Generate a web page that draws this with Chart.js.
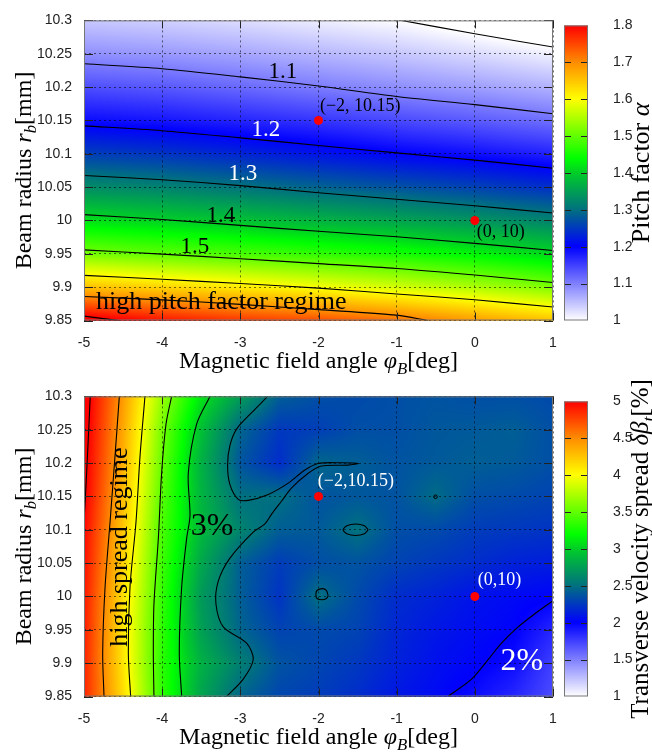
<!DOCTYPE html>
<html lang="en">
<head>
<meta charset="UTF-8">
<title>Pitch factor and transverse velocity spread</title>
<style>
  body { margin: 0; background: #fff; }
  #wrap { position: relative; width: 652px; height: 754px; overflow: hidden; }
  canvas { position: absolute; }
</style>
</head>
<body>
<div id="wrap">
  <canvas id="alphaMap" width="560" height="376" style="left:0;top:0"></canvas>
  <canvas id="alphaBar" width="96" height="376" style="left:556px;top:0"></canvas>
  <canvas id="spreadMap" width="560" height="378" style="left:0;top:376px"></canvas>
  <canvas id="spreadBar" width="96" height="378" style="left:556px;top:376px"></canvas>
</div>
<script src="https://cdn.jsdelivr.net/npm/chart.js"></script>
<script>
// axes
const phiTicks = [-5, -4, -3, -2, -1, 0, 1];
const radiusTicks = [9.85, 9.9, 9.95, 10, 10.05, 10.1, 10.15, 10.2, 10.25, 10.3];
const alphaBarTicks = [1, 1.1, 1.2, 1.3, 1.4, 1.5, 1.6, 1.7, 1.8];
const spreadBarTicks = [1, 1.5, 2, 2.5, 3, 3.5, 4, 4.5, 5];

// pitch factor: columns = alphaPhi, rows = radiusTicks (9.85 up to 10.3)
const alphaPhi = [-5, -4, -3, -2, -1, 0, 1];
const alphaValues = [
  [1.820, 1.786, 1.762, 1.745, 1.721, 1.686, 1.654],
  [1.656, 1.638, 1.618, 1.596, 1.573, 1.549, 1.519],
  [1.515, 1.499, 1.485, 1.470, 1.454, 1.433, 1.410],
  [1.417, 1.403, 1.388, 1.372, 1.356, 1.339, 1.320],
  [1.330, 1.319, 1.304, 1.288, 1.274, 1.259, 1.242],
  [1.256, 1.247, 1.233, 1.218, 1.202, 1.189, 1.173],
  [1.191, 1.183, 1.171, 1.158, 1.142, 1.128, 1.112],
  [1.138, 1.130, 1.117, 1.102, 1.088, 1.075, 1.060],
  [1.087, 1.080, 1.070, 1.057, 1.044, 1.028, 1.010],
  [1.043, 1.036, 1.026, 1.013, 1.001, 0.981, 0.960]
];

// pitch factor contour lines [phi, r]
const alpha10 = [[-0.94, 10.3], [0, 10.280], [1, 10.260]];
const alpha11 = [[-5, 10.2349], [-4, 10.2276], [-3, 10.2153], [-2, 10.2016], [-1, 10.1859], [0, 10.1737], [1, 10.160]];
const alpha12 = [[-5, 10.1419], [-4, 10.1346], [-3, 10.1238], [-2, 10.1125], [-1, 10.1013], [0, 10.0905], [1, 10.0783]];
const alpha13 = [[-5, 10.0675], [-4, 10.0611], [-3, 10.0523], [-2, 10.0416], [-1, 10.0318], [0, 10.022], [1, 10.0112]];
const alpha14 = [[-5, 10.0088], [-4, 10.0014], [-3, 9.9926], [-2, 9.9838], [-1, 9.9755], [0, 9.9657], [1, 9.9549]];
const alpha15 = [[-5, 9.9559], [-4, 9.9495], [-3, 9.9427], [-2, 9.9353], [-1, 9.928], [0, 9.9182], [1, 9.9069]];
const alpha16 = [[-5, 9.9177], [-4, 9.9118], [-3, 9.9055], [-2, 9.8986], [-1, 9.8898], [0, 9.881], [1, 9.8702]];
const alpha17 = [[-5, 9.8859], [-4, 9.881], [-3, 9.8742], [-2, 9.8663], [-1, 9.858], [-0.6, 9.85]];
const alpha18 = [[-5, 9.8565], [-4.55, 9.85]];

// transverse velocity spread in %, columns = spreadPhi, rows = radiusTicks
const spreadPhi = [-5, -4.5, -4, -3.5, -3, -2.5, -2, -1.5, -1, -0.5, 0, 0.5, 1];
const spreadValues = [
  [4.88, 4.15, 3.35, 2.78, 2.45, 2.31, 2.27, 2.20, 2.10, 2.04, 1.95, 1.85, 1.70],
  [4.88, 4.11, 3.33, 2.85, 2.58, 2.37, 2.31, 2.25, 2.15, 2.07, 2.02, 1.95, 1.75],
  [4.90, 4.11, 3.34, 2.76, 2.45, 2.30, 2.33, 2.30, 2.17, 2.10, 2.05, 2.01, 1.85],
  [4.92, 4.14, 3.36, 2.72, 2.42, 2.23, 2.50, 2.33, 2.20, 2.15, 2.08, 2.04, 2.01],
  [4.95, 4.19, 3.39, 2.80, 2.42, 2.27, 2.35, 2.37, 2.30, 2.25, 2.20, 2.15, 2.13],
  [4.98, 4.24, 3.43, 2.90, 2.61, 2.42, 2.40, 2.51, 2.35, 2.33, 2.27, 2.25, 2.23],
  [5.03, 4.29, 3.47, 2.87, 2.50, 2.50, 2.37, 2.39, 2.37, 2.48, 2.35, 2.33, 2.30],
  [5.06, 4.34, 3.52, 2.85, 2.38, 2.20, 2.46, 2.42, 2.37, 2.40, 2.42, 2.40, 2.35],
  [5.08, 4.38, 3.57, 2.93, 2.45, 2.25, 2.28, 2.35, 2.35, 2.39, 2.40, 2.42, 2.35],
  [5.11, 4.43, 3.68, 3.11, 2.74, 2.42, 2.35, 2.33, 2.35, 2.37, 2.35, 2.35, 2.33]
];

// spread contour lines [phi, r]
const spread50 = [[-4.92, 10.3], [-4.96, 10.2], [-5, 10.11]];
const spread45 = [[-4.548, 10.3], [-4.604, 10.2093], [-4.667, 10.1113], [-4.731, 10.0132], [-4.761, 9.9152], [-4.744, 9.85]];
const spread40 = [[-4.22, 10.3], [-4.284, 10.2093], [-4.335, 10.1113], [-4.412, 10.0132], [-4.433, 9.9152], [-4.403, 9.85]];
const spread35 = [[-3.879, 10.3], [-3.951, 10.2583], [-4.007, 10.1848], [-4.049, 10.0868], [-4.105, 9.9887], [-4.113, 9.9152], [-4.105, 9.85]];
const spread30 = [[-3.389, 10.3], [-3.559, 10.2583], [-3.666, 10.1848], [-3.644, 10.121], [-3.687, 10.0868], [-3.751, 10.0132], [-3.781, 9.9152], [-3.75, 9.85]];
const spread25 = [[-2.651, 10.3], [-2.856, 10.2755], [-3.048, 10.251], [-3.133, 10.2265], [-3.163, 10.197], [-3.133, 10.1676],
  [-3.026, 10.1456], [-2.899, 10.1441], [-2.643, 10.153], [-2.387, 10.170], [-2.174, 10.1897], [-2.004, 10.1995],
  [-1.705, 10.2005], [-1.492, 10.1995], [-1.62, 10.197], [-1.961, 10.1956], [-2.131, 10.1848], [-2.344, 10.1627],
  [-2.472, 10.1431], [-2.6, 10.1235], [-2.685, 10.1088], [-2.835, 10.0966], [-3.133, 10.0574], [-3.282, 10.023],
  [-3.312, 9.9887], [-3.218, 9.9544], [-2.92, 9.930], [-2.835, 9.9054], [-2.963, 9.876], [-3.175, 9.85]];
const spreadLoopA = [[-1.365, 10.1], [-1.412, 10.106], [-1.525, 10.1086], [-1.638, 10.106], [-1.685, 10.1],
  [-1.638, 10.094], [-1.525, 10.0914], [-1.412, 10.094], [-1.365, 10.1]];
const spreadLoopB = [[-1.875, 10.001], [-1.90, 10.009], [-1.95, 10.0117], [-2.02, 10.009], [-2.033, 10.0034],
  [-2.02, 9.997], [-1.95, 9.995], [-1.90, 9.997], [-1.875, 10.001]];
const spreadSpot = [[-0.503, 10.1495]];
const spread20 = [[-0.341, 9.8505], [-0.042, 9.876], [0.170, 9.9054], [0.341, 9.930], [0.554, 9.9544], [0.767, 9.974], [1, 9.9936]];

// operating points
const markedPoints = [[-2, 10.15], [0, 10]];

// colour map (fraction of colour range -> rgb)
const colorStops = [
  [0, [255, 255, 255]], [0.25, [0, 0, 255]], [0.375, [0, 112, 128]], [0.5, [0, 205, 40]],
  [0.55, [0, 255, 0]], [0.75, [255, 255, 0]], [0.875, [255, 140, 0]], [1, [255, 0, 0]]
];

Chart.defaults.font.family = '"Liberation Sans", Arial, sans-serif';
Chart.defaults.font.size = 14;
Chart.defaults.color = '#222';

const SERIF = '"Liberation Serif", "Times New Roman", serif';

function colorAt(t) {
  t = Math.max(0, Math.min(1, t));
  for (let i = 1; i < colorStops.length; i++) {
    if (t <= colorStops[i][0]) {
      const a = colorStops[i - 1], b = colorStops[i];
      const f = (t - a[0]) / (b[0] - a[0]);
      return [0, 1, 2].map(k => Math.round(a[1][k] + f * (b[1][k] - a[1][k])));
    }
  }
  return colorStops[colorStops.length - 1][1];
}

function sampleGrid(xs, ys, rows, x, y) {
  let i = 0; while (i < xs.length - 2 && x > xs[i + 1]) i++;
  let j = 0; while (j < ys.length - 2 && y > ys[j + 1]) j++;
  const fx = Math.min(1, Math.max(0, (x - xs[i]) / (xs[i + 1] - xs[i])));
  const fy = Math.min(1, Math.max(0, (y - ys[j]) / (ys[j + 1] - ys[j])));
  return rows[j][i] * (1 - fx) * (1 - fy) + rows[j][i + 1] * fx * (1 - fy) +
         rows[j + 1][i] * (1 - fx) * fy + rows[j + 1][i + 1] * fx * fy;
}

// draws text made of parts: [text, italic, subscript]
function drawRich(ctx, parts, x, y, size, angle) {
  ctx.save();
  ctx.translate(x, y);
  ctx.rotate(angle);
  const fonts = parts.map(p => (p[1] ? 'italic ' : '') + (p[2] ? size * 0.7 : size) + 'px ' + SERIF);
  let total = 0;
  parts.forEach((p, i) => { ctx.font = fonts[i]; total += ctx.measureText(p[0]).width; });
  let cx = -total / 2;
  ctx.fillStyle = '#000';
  ctx.textAlign = 'left';
  ctx.textBaseline = 'alphabetic';
  parts.forEach((p, i) => {
    ctx.font = fonts[i];
    ctx.fillText(p[0], cx, size * 0.33 + (p[2] ? size * 0.22 : 0));
    cx += ctx.measureText(p[0]).width;
  });
  ctx.restore();
}

function heatmap(xs, values, min, max) {
  return {
    id: 'heatmap',
    beforeDraw(chart) {
      const { ctx, chartArea: a, scales: { x, y } } = chart;
      const w = Math.round(a.right - a.left), h = Math.round(a.bottom - a.top);
      const off = document.createElement('canvas');
      off.width = w; off.height = h;
      const octx = off.getContext('2d');
      const img = octx.createImageData(w, h);
      for (let py = 0; py < h; py++) {
        const r = y.getValueForPixel(a.top + py + 0.5);
        for (let px = 0; px < w; px++) {
          const phi = x.getValueForPixel(a.left + px + 0.5);
          const c = colorAt((sampleGrid(xs, radiusTicks, values, phi, r) - min) / (max - min));
          const k = (py * w + px) * 4;
          img.data[k] = c[0]; img.data[k + 1] = c[1]; img.data[k + 2] = c[2]; img.data[k + 3] = 255;
        }
      }
      octx.putImageData(img, 0, 0);
      ctx.drawImage(off, a.left, a.top, a.right - a.left, a.bottom - a.top);
    }
  };
}

function decor(notes) {
  return {
    id: 'decor',
    afterDraw(chart) {
      const { ctx, chartArea: a, scales: { x, y } } = chart;
      ctx.save();
      ctx.strokeStyle = '#222';
      ctx.lineWidth = 1;
      ctx.beginPath();
      x.ticks.forEach(t => {
        const px = Math.round(x.getPixelForValue(t.value)) + 0.5;
        ctx.moveTo(px, a.bottom); ctx.lineTo(px, a.bottom - 8);
        ctx.moveTo(px, a.top); ctx.lineTo(px, a.top + 8);
      });
      y.ticks.forEach(t => {
        const py = Math.round(y.getPixelForValue(t.value)) + 0.5;
        ctx.moveTo(a.left, py); ctx.lineTo(a.left + 9, py);
        ctx.moveTo(a.right, py); ctx.lineTo(a.right - 9, py);
      });
      ctx.stroke();
      ctx.strokeStyle = '#777';
      ctx.strokeRect(a.left + 0.5, a.top + 0.5, a.right - a.left - 1, a.bottom - a.top - 1);

      notes.forEach(n => {
        ctx.save();
        ctx.translate(x.getPixelForValue(n.phi), y.getPixelForValue(n.r));
        if (n.angle) ctx.rotate(n.angle);
        ctx.font = n.size + 'px ' + SERIF;
        ctx.fillStyle = n.color;
        ctx.textAlign = n.align || 'center';
        ctx.textBaseline = 'middle';
        ctx.fillText(n.text, 0, 0);
        ctx.restore();
      });

      drawRich(ctx, [['Magnetic field angle ', false], ['φ', true], ['B', true, true], ['[deg]', false]],
        (a.left + a.right) / 2, a.bottom + 40, 24, 0);
      drawRich(ctx, [['Beam radius ', false], ['r', true], ['b', true, true], ['[mm]', false]],
        23, (a.top + a.bottom) / 2, 24, -Math.PI / 2);
      ctx.restore();
    }
  };
}

function contour(points) {
  return {
    data: points.map(p => ({ x: p[0], y: p[1] })),
    showLine: true, borderColor: '#000', borderWidth: 1.1,
    pointRadius: 0, tension: 0.3, fill: false
  };
}

function mapChart(id, lines, spots, xs, values, min, max, notes) {
  const canvas = document.getElementById(id);
  const H = canvas.height;
  const datasets = lines.map(contour);
  spots.forEach(s => datasets.push({
    data: s.map(p => ({ x: p[0], y: p[1] })),
    pointRadius: 1.8, backgroundColor: 'rgba(0,0,0,0)', borderColor: '#000', borderWidth: 1
  }));
  datasets.push({
    data: markedPoints.map(p => ({ x: p[0], y: p[1] })),
    pointRadius: 4.5, backgroundColor: '#ff0000', borderWidth: 0
  });
  return new Chart(canvas, {
    type: 'scatter',
    data: { datasets },
    options: {
      responsive: false,
      animation: false,
      events: [],
      layout: { autoPadding: false, padding: { top: 14, right: 7, left: 0, bottom: 0 } },
      plugins: { legend: { display: false }, tooltip: { enabled: false } },
      scales: {
        x: {
          type: 'linear', min: -5, max: 1,
          afterBuildTicks: s => { s.ticks = phiTicks.map(v => ({ value: v })); },
          afterFit: s => { s.height = H - 320.5; s.paddingLeft = 0; s.paddingRight = 0; },
          ticks: { padding: 14, callback: v => String(v) },
          grid: { color: 'rgba(0,0,0,0.55)', drawTicks: false },
          border: { display: false, dash: [2, 3] }
        },
        y: {
          type: 'linear', min: 9.85, max: 10.3,
          afterBuildTicks: s => { s.ticks = radiusTicks.map(v => ({ value: v })); },
          afterFit: s => { s.width = 84; },
          ticks: { padding: 12, callback: v => String(+v.toFixed(2)) },
          grid: { color: 'rgba(0,0,0,0.55)', drawTicks: false },
          border: { display: false, dash: [2, 3] }
        }
      }
    },
    plugins: [heatmap(xs, values, min, max), decor(notes)]
  });
}

function barChart(id, ticks, titleParts, titleSize) {
  const canvas = document.getElementById(id);
  const H = canvas.height;
  const min = ticks[0], max = ticks[ticks.length - 1];
  return new Chart(canvas, {
    type: 'bar',
    data: {
      labels: [''],
      datasets: [{
        data: [[min, max]],
        borderWidth: 0,
        barPercentage: 1,
        categoryPercentage: 1,
        backgroundColor: c => {
          const ch = c.chart, y = ch.scales.y;
          if (!ch.chartArea || !y) return '#fff';
          const g = ch.ctx.createLinearGradient(0, y.getPixelForValue(max), 0, y.getPixelForValue(min));
          colorStops.forEach(s => g.addColorStop(1 - s[0], 'rgb(' + s[1].join(',') + ')'));
          return g;
        }
      }]
    },
    options: {
      responsive: false,
      animation: false,
      events: [],
      layout: { padding: { top: 14, right: 0, left: 8, bottom: H - 320.5 } },
      plugins: { legend: { display: false }, tooltip: { enabled: false } },
      scales: {
        x: { display: false },
        y: {
          position: 'right', min, max,
          afterBuildTicks: s => { s.ticks = ticks.map(v => ({ value: v })); },
          afterFit: s => { s.width = 64; },
          ticks: { padding: 17, callback: v => String(v) },
          grid: { display: false },
          border: { display: false }
        }
      }
    },
    plugins: [{
      id: 'barDecor',
      afterDraw(chart) {
        const { ctx, chartArea: a, scales: { y } } = chart;
        ctx.save();
        ctx.strokeStyle = '#222';
        ctx.beginPath();
        ticks.slice(1, -1).forEach(v => {
          const py = Math.round(y.getPixelForValue(v)) + 0.5;
          ctx.moveTo(a.left, py); ctx.lineTo(a.left + 7, py);
          ctx.moveTo(a.right, py); ctx.lineTo(a.right - 7, py);
        });
        ctx.stroke();
        ctx.strokeStyle = '#777';
        ctx.strokeRect(a.left + 0.5, a.top + 0.5, a.right - a.left - 1, a.bottom - a.top - 1);
        drawRich(ctx, titleParts, 84, (a.top + a.bottom) / 2, titleSize, -Math.PI / 2);
        ctx.restore();
      }
    }]
  });
}

mapChart('alphaMap',
  [alpha10, alpha11, alpha12, alpha13, alpha14, alpha15, alpha16, alpha17, alpha18], [],
  alphaPhi, alphaValues, 1, 1.8,
  [
    { text: '1.1', phi: -2.455, r: 10.222, size: 23, color: '#000' },
    { text: '1.2', phi: -2.673, r: 10.1355, size: 23, color: '#fff' },
    { text: '1.3', phi: -2.967, r: 10.0695, size: 23, color: '#fff' },
    { text: '1.4', phi: -3.248, r: 10.0063, size: 23, color: '#000' },
    { text: '1.5', phi: -3.581, r: 9.9608, size: 23, color: '#000' },
    { text: 'high pitch factor regime', phi: -4.847, r: 9.878, size: 26, color: '#000', align: 'left' },
    { text: '(−2, 10.15)', phi: -1.982, r: 10.1708, size: 18, color: '#000', align: 'left' },
    { text: '(0, 10)', phi: 0.026, r: 9.983, size: 18, color: '#000', align: 'left' }
  ]);

barChart('alphaBar', alphaBarTicks, [['Pitch factor ', false], ['α', true]], 26);

mapChart('spreadMap',
  [spread50, spread45, spread40, spread35, spread30, spread25, spreadLoopA, spreadLoopB, spread20], [spreadSpot],
  spreadPhi, spreadValues, 1, 5,
  [
    { text: '3%', phi: -3.363, r: 10.1044, size: 32, color: '#000' },
    { text: '2%', phi: 0.601, r: 9.903, size: 32, color: '#fff' },
    { text: 'high spread regime', phi: -4.54, r: 10.074, size: 26, color: '#000', angle: -Math.PI / 2 },
    { text: '(−2,10.15)', phi: -2.008, r: 10.172, size: 18, color: '#fff', align: 'left' },
    { text: '(0,10)', phi: 0.038, r: 10.025, size: 18, color: '#fff', align: 'left' }
  ]);

barChart('spreadBar', spreadBarTicks,
  [['Transverse velocity spread ', false], ['δβ', true], ['t', true, true], ['[%]', false]], 25);
</script>
</body>
</html>
